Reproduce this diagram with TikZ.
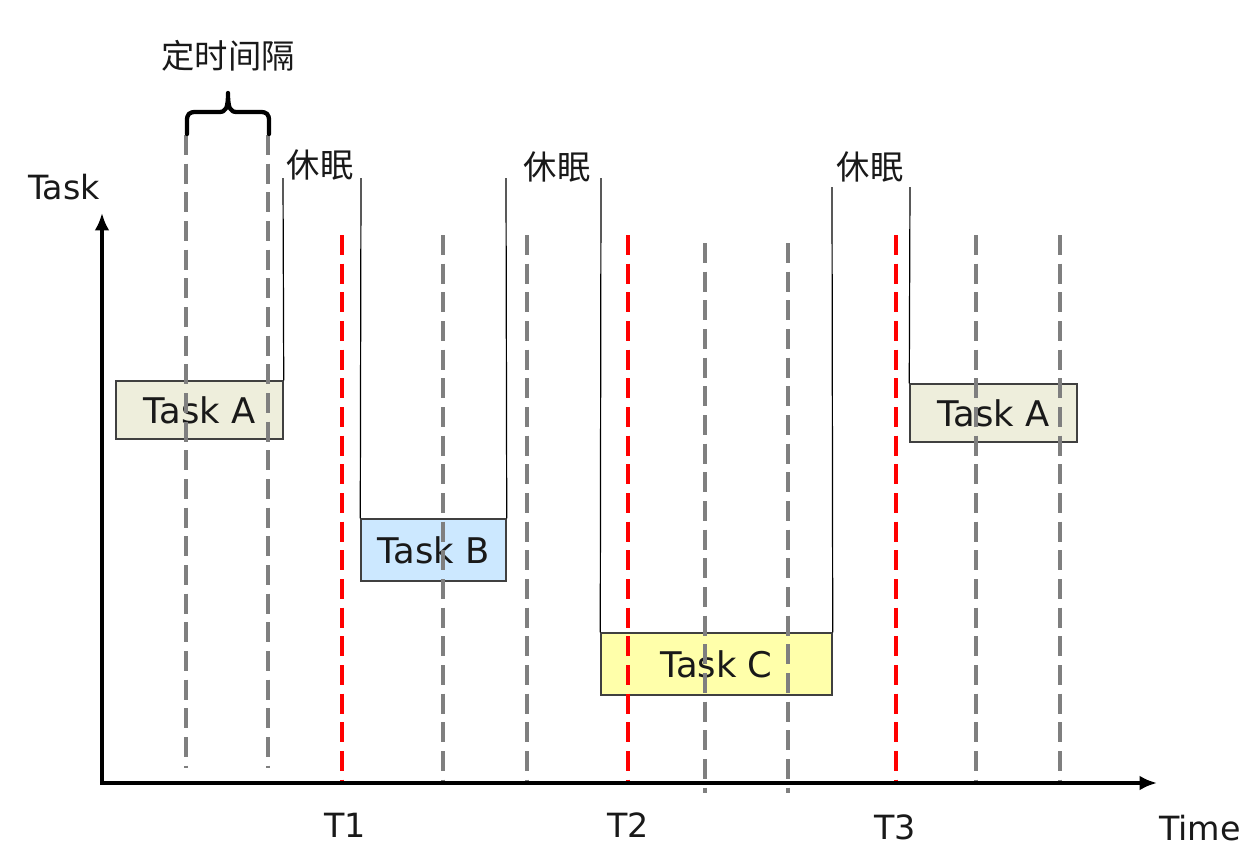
\documentclass[tikz,border=0pt]{standalone}
\usepackage{fontspec}
\setmainfont{DejaVu Sans}
\newfontfamily\cjk{Noto Sans CJK SC}
\usetikzlibrary{arrows.meta}
\definecolor{boxA}{HTML}{EEEEDC}
\definecolor{boxB}{HTML}{CCE8FF}
\definecolor{boxC}{HTML}{FFFFAA}
\definecolor{tickgray}{HTML}{7F7F7F}
\definecolor{tickred}{HTML}{FF0000}
\definecolor{boxborder}{HTML}{404040}
\tikzset{
  taskbox/.style={draw=boxborder, line width=1.1pt, inner sep=0pt, font=\fontsize{26.5}{30}\selectfont, text=black!90},
  graytick/.style={draw=tickgray, line width=2.4pt, dash pattern=on 15pt off 6.5pt},
  redtick/.style={draw=tickred, line width=2.4pt, dash pattern=on 15pt off 6.5pt},
  pathline/.style={draw=black, line width=0.9pt},
  axis/.style={draw=black, line width=3.4pt, -{Latex[length=13pt,width=11pt]}},
  axislabel/.style={font=\fontsize{25}{28}\selectfont, inner sep=0pt, text=black!90},
  cjklabel/.style={font=\cjk\fontsize{25}{28}\selectfont, inner sep=0pt, text=black!90},
  bracepath/.style={draw=black, line width=3.2pt}
}
\begin{document}
\begin{tikzpicture}[x=0.75pt,y=-0.75pt]
\useasboundingbox (0,0) rectangle (1258,865);
\fill[white] (0,0) rectangle (1258,865);

% task boxes
\node[taskbox, fill=boxA, minimum width=125.25pt, minimum height=43.5pt] (tA1) at (199.5,410) {Task A};
\node[taskbox, fill=boxB, minimum width=108.75pt, minimum height=46.5pt] (tB) at (433.5,550) {Task B};
\node[taskbox, fill=boxC, minimum width=173.25pt, minimum height=46.5pt] (tC) at (716.5,664) {Task C};
\node[taskbox, fill=boxA, minimum width=125.25pt, minimum height=43.5pt] (tA2) at (993.5,413) {Task A};

% sleep path lines
\coordinate (s1a) at (283,178);
\coordinate (s1b) at (361,178);
\coordinate (s2a) at (506,178);
\coordinate (s2b) at (601,178);
\coordinate (s3a) at (832,187);
\coordinate (s3b) at (910,187);
\draw[pathline] (tA1.north east) -- (s1a);
\draw[pathline] (s1b) -- (tB.north west);
\draw[pathline] (tB.north east) -- (s2a);
\draw[pathline] (s2b) -- (tC.north west);
\draw[pathline] (tC.north east) -- (s3a);
\draw[pathline] (s3b) -- (tA2.north west);

% sleep labels
\node[cjklabel] (sl1) at (320,165) {休眠};
\node[cjklabel] (sl2) at (557,167) {休眠};
\node[cjklabel] (sl3) at (870,167) {休眠};

% gray dashed ticks
\draw[graytick] (186,135) -- (186,768);
\draw[graytick] (268,135) -- (268,768);
\draw[graytick] (443,235) -- (443,781);
\draw[graytick] (527,235) -- (527,781);
\draw[graytick] (705,243) -- (705,793);
\draw[graytick] (788,243) -- (788,793);
\draw[graytick] (976,235) -- (976,781);
\draw[graytick] (1060,235) -- (1060,781);

% red dashed ticks
\draw[redtick] (342,235) -- (342,783);
\draw[redtick] (628,235) -- (628,783);
\draw[redtick] (896,235) -- (896,783);

% axes
\coordinate (origin) at (102,783);
\coordinate (ytip) at (102,213);
\coordinate (xtip) at (1157,783);
\draw[axis] ([yshift=-1.3pt]origin) -- (ytip);
\draw[axis] ([xshift=-1.3pt]origin) -- (xtip);

\node[axislabel] (ylab) at (64,187) {Task};
\node[axislabel] (xlab) at (1200,828) {Time};
\node[axislabel] (t1) at (345,825) {T1};
\node[axislabel] (t2) at (628,825) {T2};
\node[axislabel] (t3) at (895,827) {T3};

% brace
\draw[bracepath, line cap=round, line join=round]
  (187,134) -- (187,121) .. controls (187,114) and (189,112) .. (196,112)
  -- (219,112) .. controls (226,112) and (228,108) .. (228,93)
  .. controls (228,108) and (230,112) .. (237,112)
  -- (260,112) .. controls (267,112) and (269,114) .. (269,121) -- (269,134);
\node[cjklabel] (interval) at (228,56) {定时间隔};
\end{tikzpicture}
\end{document}
